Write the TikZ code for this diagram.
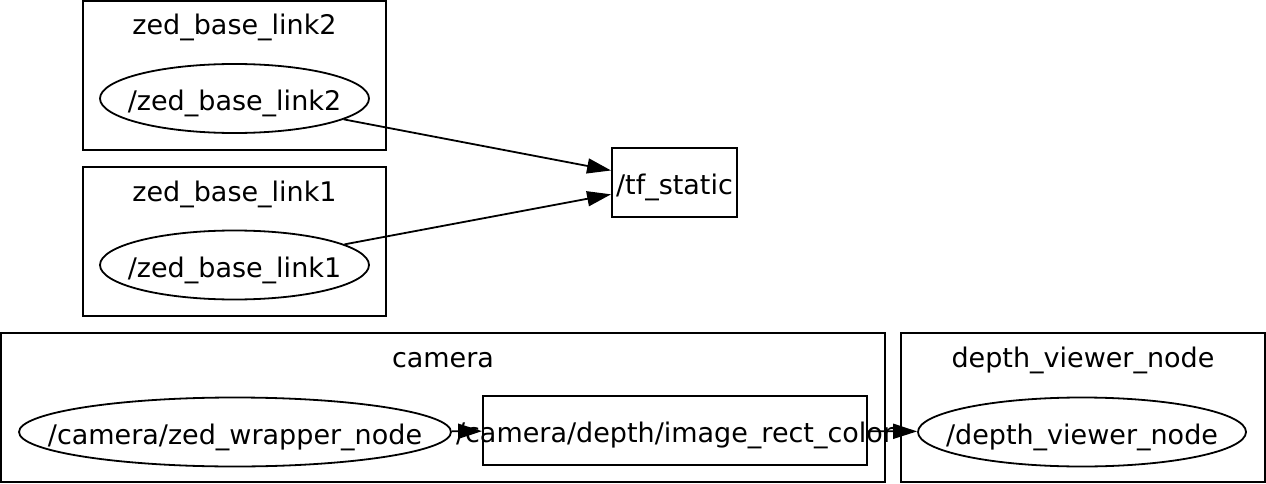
\documentclass[tikz,border=0pt]{standalone}
\usepackage{fontspec}
\setmainfont{DejaVu Sans}
\usetikzlibrary{arrows.meta,positioning,shapes.geometric}

% text that may run past its shape, as graphviz lets it
\newcommand{\wide}[1]{\raisebox{-12pt}[0pt][0pt]{\makebox[0pt]{#1}}}

\begin{document}
\begin{tikzpicture}[
   x=1pt,y=-1pt,
   every node/.style={font=\fontsize{27}{30}\selectfont,inner sep=0pt},
   cluster/.style={draw,rectangle,line width=1.8pt},
   title/.style={anchor=base},
   topic/.style={draw,rectangle,line width=1.8pt,minimum height=69pt},
   nodeell/.style={draw,ellipse,line width=1.8pt,minimum height=69pt},
   arr/.style={-{Triangle[length=24pt,width=15pt]},line width=1.8pt}
]
\useasboundingbox (0,0) rectangle (1266,484);

% Clusters
\node[cluster,minimum width=303pt,minimum height=149pt] (C2) at (234.5,75.5) {};
\node[title] (T2) at (234.5,35) {zed\_base\_link2};
\node[cluster,minimum width=303pt,minimum height=149pt] (C1) at (234.5,241.5) {};
\node[title] (T1) at (234.5,201) {zed\_base\_link1};
\node[cluster,minimum width=884pt,minimum height=149pt] (CC) at (443,407.5) {};
\node[title] (TC) at (443,367) {camera};
\node[cluster,minimum width=364pt,minimum height=149pt] (CD) at (1083,407.5) {};
\node[title] (TD) at (1083,367) {depth\_viewer\_node};

% Nodes
\node[nodeell,minimum width=269pt] (ZB2) at (234.5,98.5) {\wide{/zed\_base\_link2}};
\node[nodeell,minimum width=269pt] (ZB1) at (234.5,265) {\wide{/zed\_base\_link1}};
\node[nodeell,minimum width=432pt] (ZW) at (235,432) {\wide{/camera/zed\_wrapper\_node}};
\node[nodeell,minimum width=328pt] (DV) at (1082,432) {\wide{/depth\_viewer\_node}};

% Topics
\node[topic,minimum width=125pt] (TF) at (674.5,182.5) {\wide{/tf\_static}};
\node[topic,minimum width=384pt] (IRC) at (675,430.5) {\wide{/camera/depth/image\_rect\_color}};

% Edges
\draw[arr] (ZB2) -- (TF);
\draw[arr] (ZB1) -- (TF);
\draw[arr] (ZW) -- (IRC);
\draw[arr] (IRC) -- (DV);

\end{tikzpicture}
\end{document}
